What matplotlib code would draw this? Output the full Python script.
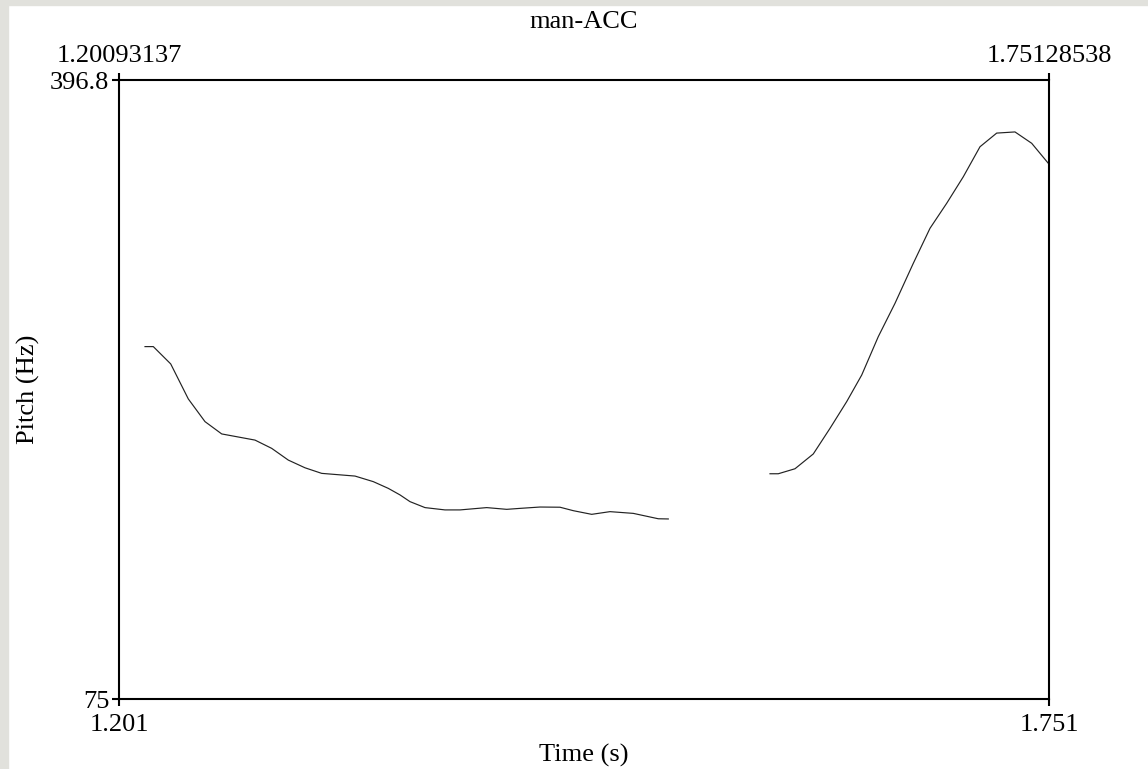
import matplotlib
matplotlib.use("Agg")
import matplotlib.pyplot as plt
from matplotlib.patches import Rectangle

plt.rcParams['font.family'] = ['Liberation Serif', 'DejaVu Serif']

# ---- data ----
title = "man-ACC"
t_min, t_max = 1.20093137, 1.75128538
f_min, f_max = 75.0, 396.8
top_labels = ["1.20093137", "1.75128538"]
bottom_labels = ["1.201", "1.751"]
y_labels = ["75", "396.8"]

seg1_t = [1.21632, 1.22123, 1.23153, 1.24194, 1.25182, 1.26171, 1.28141, 1.29129,
          1.30112, 1.31100, 1.32088, 1.34059, 1.35142, 1.36030, 1.36722, 1.37314,
          1.38202, 1.39385, 1.40273, 1.41853, 1.43037, 1.43823, 1.45007, 1.46191,
          1.46978, 1.48066, 1.49149, 1.50528, 1.52008, 1.52599]
seg1_f = [258.2, 258.2, 249.2, 231.0, 219.2, 212.8, 209.6, 205.3,
          199.2, 195.2, 192.3, 190.9, 188.0, 184.5, 181.1, 177.6,
          174.5, 173.3, 173.3, 174.5, 173.6, 174.1, 174.8, 174.7,
          172.9, 171.0, 172.4, 171.5, 168.7, 168.6]

seg2_t = [1.58618, 1.59109, 1.60097, 1.61180, 1.62168, 1.63157, 1.64044, 1.65027,
          1.66015, 1.67098, 1.68086, 1.69074, 1.70057, 1.71045, 1.72033, 1.73116,
          1.74104, 1.75087]
seg2_f = [192.1, 192.1, 194.7, 202.4, 215.7, 229.6, 243.4, 263.4,
          280.7, 301.5, 319.7, 332.7, 346.5, 362.1, 369.2, 369.8,
          363.9, 353.5]

W, H = 1148, 769
fig = plt.figure(figsize=(W / 100, H / 100), dpi=100)
fig.patch.set_facecolor('white')

# gray border strips (left, top)
gray = '#e1e1dc'
fig.add_artist(Rectangle((0, 0), 8 / W, 1, transform=fig.transFigure, color=gray, zorder=0))
fig.add_artist(Rectangle((0, 1 - 5 / H), 1, 5 / H, transform=fig.transFigure, color=gray, zorder=0))

L, R, T, B = 119, 1049, 80, 699
ax = fig.add_axes([L / W, (H - B) / H, (R - L) / W, (B - T) / H])
ax.set_facecolor('white')

ax.plot(seg1_t, seg1_f, color='#222222', lw=0.85)
ax.plot(seg2_t, seg2_f, color='#222222', lw=0.85)

ax.set_xlim(t_min, t_max)
ax.set_ylim(f_min, f_max)

for s in ax.spines.values():
    s.set_linewidth(1.5)
    s.set_color('black')

fs = 19
ax.set_xticks([t_min, t_max], bottom_labels, fontsize=fs)
ax.set_yticks([f_min, f_max], y_labels, fontsize=fs)
ax.tick_params(axis='both', direction='out', length=5, width=1.5, color='black')
ax.tick_params(axis='x', pad=6)
ax.tick_params(axis='y', pad=2)

sec = ax.secondary_xaxis('top')
sec.set_xticks([t_min, t_max], top_labels, fontsize=fs)
sec.tick_params(direction='out', length=5, width=1.5, pad=4)
sec.spines['top'].set_visible(False)

fig.text((L + R) / 2 / W, 1 - 22 / H, title, ha='center', va='center', fontsize=fs)
fig.text((L + R) / 2 / W, 1 - 755 / H, "Time (s)", ha='center', va='center', fontsize=fs)
fig.text(28 / W, 1 - 389 / H, "Pitch (Hz)", ha='center', va='center', rotation=90, fontsize=fs)

fig.savefig("out.png", dpi=100, facecolor='white')
